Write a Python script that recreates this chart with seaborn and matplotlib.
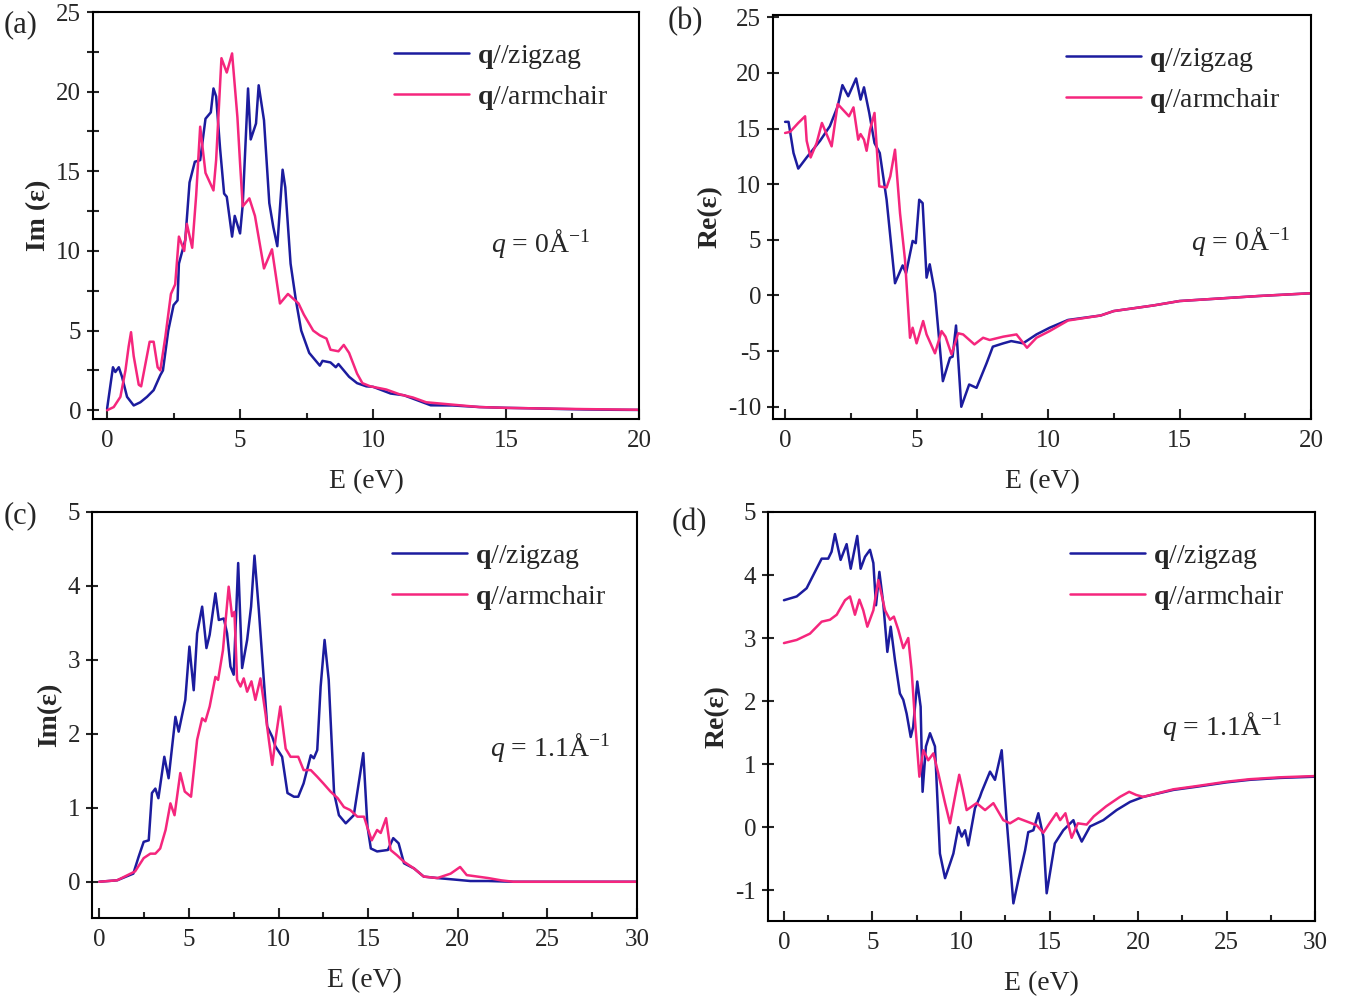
import matplotlib
matplotlib.use("Agg")
import matplotlib.pyplot as plt
import seaborn as sns
from matplotlib.ticker import MultipleLocator

# ---- (a) Im(eps), q = 0 ----
a_zz_E = [0, 0.22, 0.31, 0.44, 0.56, 0.75, 1.0, 1.25, 1.5, 1.75, 2.0, 2.1, 2.3, 2.5, 2.65, 2.7,
          2.94, 3.1, 3.3, 3.5, 3.7, 3.9, 4.0, 4.1, 4.25, 4.4, 4.5, 4.7, 4.8, 5.0, 5.1, 5.3, 5.4,
          5.6, 5.7, 5.9, 6.1, 6.25, 6.4, 6.6, 6.7, 6.9, 7.1, 7.3, 7.6, 8.0, 8.1, 8.4, 8.6, 8.7,
          9.1, 9.4, 9.75, 10.0, 10.66, 11.16, 11.66, 12.17, 13.0, 14.0, 15.0, 16.0, 17.0, 18.0,
          19.0, 20.0]
a_zz_v = [0.1, 2.7, 2.4, 2.7, 2.1, 0.84, 0.3, 0.5, 0.84, 1.26, 2.2, 2.5, 5.0, 6.6, 6.9, 9.2,
          10.7, 14.3, 15.6, 15.7, 18.3, 18.7, 20.2, 19.7, 16.4, 13.6, 13.4, 10.9, 12.2, 11.1, 12.9,
          20.2, 17.0, 18.0, 20.4, 18.2, 13.0, 11.5, 10.3, 15.1, 14.0, 9.2, 6.9, 5.0, 3.6, 2.8, 3.1,
          3.0, 2.7, 2.9, 2.1, 1.7, 1.5, 1.47, 1.05, 0.94, 0.63, 0.31, 0.3, 0.2, 0.15, 0.12, 0.08,
          0.05, 0.03, 0.02]
a_ac_E = [0, 0.25, 0.5, 0.69, 0.81, 0.9, 1.0, 1.19, 1.28, 1.44, 1.6, 1.75, 1.9, 2.0, 2.19, 2.4,
          2.56, 2.7, 2.9, 3.0, 3.2, 3.35, 3.5, 3.7, 4.0, 4.1, 4.3, 4.5, 4.7, 4.9, 5.0, 5.1, 5.35,
          5.56, 5.9, 6.2, 6.5, 6.8, 7.2, 7.4, 7.75, 8.0, 8.25, 8.4, 8.7, 8.9, 9.1, 9.4, 9.6, 9.9,
          10.5, 11.0, 11.5, 12.0, 13.0, 14.0, 15.0, 16.0, 18.0, 20.0]
a_ac_v = [0, 0.2, 0.84, 2.5, 4.0, 4.9, 3.4, 1.6, 1.5, 2.9, 4.3, 4.3, 2.7, 2.5, 4.6, 7.3, 7.9,
          10.9, 10.0, 11.7, 10.2, 13.5, 17.8, 14.9, 13.8, 15.7, 22.1, 21.2, 22.4, 18.4, 15.5, 12.8,
          13.3, 12.2, 8.9, 10.1, 6.7, 7.3, 6.7, 6.0, 5.0, 4.7, 4.5, 3.8, 3.7, 4.1, 3.6, 2.3, 1.7,
          1.5, 1.3, 1.0, 0.8, 0.5, 0.35, 0.2, 0.15, 0.12, 0.07, 0.03]

# ---- (b) Re(eps), q = 0 ----
b_zz_E = [0, 0.13, 0.32, 0.5, 0.82, 1.33, 1.7, 2.0, 2.18, 2.4, 2.7, 2.87, 3.0, 3.2, 3.4, 3.6,
          3.86, 4.18, 4.47, 4.6, 4.85, 4.97, 5.1, 5.23, 5.38, 5.5, 5.7, 6.0, 6.27, 6.37, 6.5, 6.7,
          7.0, 7.28, 7.66, 7.9, 8.3, 8.6, 9.05, 9.56, 10.06, 10.76, 12.0, 12.5, 14.0, 15.0, 16.0,
          18.0, 20.0]
b_zz_v = [15.6, 15.6, 12.8, 11.4, 12.4, 13.9, 15.2, 17.0, 18.9, 17.9, 19.5, 17.6, 18.7, 16.4,
          13.7, 12.8, 8.6, 1.1, 2.7, 2.0, 4.9, 4.7, 8.6, 8.3, 1.6, 2.8, 0.2, -7.7, -5.6, -5.5, -2.7,
          -10.0, -8.0, -8.3, -6.1, -4.6, -4.3, -4.1, -4.3, -3.5, -2.9, -2.2, -1.8, -1.4, -0.9,
          -0.5, -0.35, -0.05, 0.2]
b_ac_E = [0, 0.19, 0.5, 0.63, 0.76, 0.82, 0.97, 1.2, 1.4, 1.77, 2.0, 2.43, 2.6, 2.78, 2.87, 3.0,
          3.1, 3.23, 3.4, 3.58, 3.86, 4.0, 4.18, 4.37, 4.56, 4.75, 4.85, 5.0, 5.25, 5.38, 5.7,
          5.95, 6.1, 6.33, 6.58, 6.77, 7.2, 7.53, 7.78, 8.3, 8.8, 9.2, 9.56, 10.06, 10.76, 12.0,
          12.5, 14.0, 15.0, 16.0, 18.0, 20.0]
b_ac_v = [14.6, 14.7, 15.5, 15.8, 16.1, 13.9, 12.4, 13.7, 15.5, 13.4, 17.2, 16.1, 16.9, 14.0,
          14.5, 14.0, 13.0, 14.9, 16.4, 9.8, 9.7, 10.7, 13.1, 7.4, 3.2, -3.8, -2.9, -4.3, -2.3,
          -3.5, -5.2, -3.2, -3.7, -5.3, -3.4, -3.5, -4.4, -3.8, -4.0, -3.7, -3.5, -4.7, -3.8, -3.2,
          -2.25, -1.8, -1.4, -0.9, -0.5, -0.35, -0.05, 0.2]

# ---- (c) Im(eps), q = 1.1 ----
c_zz_E = [0, 1.0, 1.9, 2.2, 2.48, 2.76, 2.94, 3.13, 3.3, 3.63, 3.87, 4.25, 4.43, 4.8, 5.03, 5.27,
          5.46, 5.74, 5.98, 6.16, 6.48, 6.67, 6.95, 7.13, 7.32, 7.5, 7.75, 7.97, 8.25, 8.47, 8.66,
          8.9, 9.18, 9.37, 9.65, 9.83, 10.2, 10.5, 10.86, 11.1, 11.4, 11.8, 11.97, 12.16, 12.35,
          12.57, 12.8, 13.1, 13.37, 13.75, 14.2, 14.73, 14.96, 15.15, 15.5, 16.1, 16.4, 16.7,
          17.0, 17.56, 18.1, 18.86, 19.8, 20.7, 21.7, 23.1, 25.0, 30.0]
c_zz_v = [0, 0.02, 0.11, 0.34, 0.54, 0.56, 1.2, 1.26, 1.13, 1.69, 1.4, 2.23, 2.03, 2.46, 3.18,
          2.59, 3.36, 3.72, 3.16, 3.34, 3.9, 3.54, 3.56, 3.36, 2.91, 2.8, 4.31, 2.89, 3.27, 3.72,
          4.41, 3.68, 2.73, 2.1, 1.96, 1.83, 1.69, 1.2, 1.15, 1.15, 1.33, 1.71, 1.67, 1.78, 2.64,
          3.27, 2.73, 1.2, 0.9, 0.79, 0.9, 1.74, 0.75, 0.45, 0.41, 0.43, 0.59, 0.52, 0.25, 0.18,
          0.07, 0.05, 0.03, 0.01, 0.01, 0, 0, 0]
c_ac_E = [0, 1.0, 2.0, 2.48, 2.85, 3.13, 3.4, 3.7, 3.97, 4.2, 4.52, 4.77, 5.12, 5.46, 5.74, 5.92,
          6.16, 6.48, 6.63, 6.9, 7.22, 7.41, 7.54, 7.69, 7.88, 8.06, 8.25, 8.49, 8.71, 8.99, 9.27,
          9.46, 9.65, 9.83, 10.1, 10.4, 10.67, 11.1, 11.4, 11.8, 12.16, 12.5, 12.9, 13.3, 13.65,
          14.0, 14.4, 14.77, 14.95, 15.2, 15.5, 15.7, 16.0, 16.25, 16.6, 17.0, 17.56, 18.1,
          18.86, 19.6, 20.13, 20.5, 21.1, 21.7, 22.4, 23.1, 25.0, 30.0]
c_ac_v = [0, 0.02, 0.14, 0.32, 0.38, 0.38, 0.45, 0.7, 1.06, 0.9, 1.47, 1.22, 1.15, 1.92, 2.21,
          2.17, 2.37, 2.77, 2.73, 3.13, 3.99, 3.59, 3.65, 2.73, 2.64, 2.75, 2.57, 2.71, 2.46, 2.75,
          2.28, 1.92, 1.58, 1.92, 2.37, 1.8, 1.69, 1.69, 1.51, 1.51, 1.42, 1.33, 1.22, 1.13, 1.01,
          0.97, 0.88, 0.88, 0.74, 0.56, 0.7, 0.66, 0.86, 0.43, 0.36, 0.27, 0.18, 0.07, 0.05, 0.11,
          0.2, 0.09, 0.07, 0.05, 0.02, 0, 0, 0]

# ---- (d) Re(eps), q = 1.1 ----
d_zz_E = [0, 0.72, 1.28, 1.75, 2.13, 2.5, 2.69, 2.88, 3.2, 3.54, 3.77, 4.14, 4.33, 4.58, 4.86,
          5.05, 5.2, 5.39, 5.61, 5.84, 6.03, 6.27, 6.55, 6.74, 6.93, 7.16, 7.3, 7.53, 7.72, 7.83,
          8.02, 8.25, 8.53, 8.81, 9.1, 9.38, 9.57, 9.85, 10.04, 10.23, 10.41, 10.79, 11.07, 11.17,
          11.64, 11.92, 12.3, 12.58, 12.96, 13.24, 13.62, 13.8, 14.09, 14.37, 14.65, 14.84, 15.3,
          15.78, 16.35, 16.53, 16.82, 17.29, 18.04, 18.79, 19.55, 20.3, 22.0, 23.3, 25.0, 26.3,
          28.0, 30.0]
d_zz_v = [3.6, 3.66, 3.79, 4.05, 4.26, 4.26, 4.37, 4.65, 4.24, 4.49, 4.1, 4.62, 4.1, 4.29, 4.4,
          4.19, 3.52, 4.05, 3.55, 2.78, 3.18, 2.65, 2.12, 2.02, 1.8, 1.43, 1.59, 2.31, 1.91, 0.56,
          1.28, 1.49, 1.28, -0.42, -0.81, -0.58, -0.42, 0.0, -0.15, -0.05, -0.29, 0.3, 0.48, 0.56,
          0.88, 0.75, 1.22, 0.11, -1.21, -0.84, -0.37, -0.08, -0.05, 0.22, -0.15, -1.05, -0.26,
          -0.05, 0.11, -0.05, -0.23, 0.01, 0.11, 0.27, 0.4, 0.48, 0.59, 0.64, 0.71, 0.75, 0.78,
          0.8]
d_ac_E = [0, 0.72, 1.47, 2.13, 2.6, 2.98, 3.45, 3.73, 4.01, 4.26, 4.48, 4.71, 5.05, 5.33, 5.52,
          5.71, 5.99, 6.21, 6.46, 6.74, 7.02, 7.21, 7.4, 7.65, 7.87, 8.15, 8.44, 8.72, 9.1, 9.38,
          9.66, 9.9, 10.09, 10.32, 10.88, 11.36, 11.83, 12.39, 12.77, 13.24, 13.8, 14.27, 14.65,
          15.0, 15.39, 15.6, 15.9, 16.25, 16.6, 17.1, 17.5, 18.2, 18.98, 19.5, 19.9, 20.3, 22.0,
          23.3, 25.0, 26.3, 28.0, 30.0]
d_ac_v = [2.92, 2.97, 3.07, 3.26, 3.29, 3.37, 3.6, 3.66, 3.37, 3.61, 3.44, 3.18, 3.44, 3.92,
          3.68, 3.44, 3.29, 3.34, 3.13, 2.84, 3.0, 2.49, 1.7, 0.8, 1.22, 1.06, 1.17, 0.85, 0.38,
          0.06, 0.48, 0.83, 0.59, 0.27, 0.38, 0.27, 0.38, 0.11, 0.06, 0.14, 0.08, 0.03, -0.09,
          0.06, 0.22, 0.11, 0.22, -0.17, 0.06, 0.04, 0.17, 0.33, 0.48, 0.56, 0.51, 0.48, 0.6,
          0.65, 0.72, 0.76, 0.79, 0.81]

BLUE = "#1c1c9e"
PINK = "#f5267d"

panels = [
    dict(tag="(a)", ylabel="Im (ε)", ann=r"$q$ = 0Å$^{\mathsf{-}1}$",
         zz=(a_zz_E, a_zz_v), ac=(a_ac_E, a_ac_v),
         rect=[0.0691, 0.581, 0.4056, 0.407], xlim=(-0.53, 20), ylim=(-0.55, 25),
         xmaj=5, ymaj=5, ymin=2.5, ann_xy=(0.82, 0.43), tag_xy=(0.003, 0.99)),
    dict(tag="(b)", ylabel="Re(ε)", ann=r"$q$ = 0Å$^{\mathsf{-}1}$",
         zz=(b_zz_E, b_zz_v), ac=(b_ac_E, b_ac_v),
         rect=[0.5743, 0.581, 0.3997, 0.404], xlim=(-0.46, 20), ylim=(-11.1, 25.2),
         xmaj=5, ymaj=5, ymin=None, ann_xy=(0.87, 0.44), tag_xy=(0.496, 0.993)),
    dict(tag="(c)", ylabel="Im(ε)", ann=r"$q$ = 1.1Å$^{\mathsf{-}1}$",
         zz=(c_zz_E, c_zz_v), ac=(c_ac_E, c_ac_v),
         rect=[0.0684, 0.082, 0.4049, 0.406], xlim=(-0.4, 30), ylim=(-0.49, 5),
         xmaj=5, ymaj=1, ymin=None, ann_xy=(0.84, 0.42), tag_xy=(0.003, 0.499)),
    dict(tag="(d)", ylabel="Re(ε)", ann=r"$q$ = 1.1Å$^{\mathsf{-}1}$",
         zz=(d_zz_E, d_zz_v), ac=(d_ac_E, d_ac_v),
         rect=[0.5706, 0.079, 0.4064, 0.409], xlim=(-0.9, 30), ylim=(-1.49, 5),
         xmaj=5, ymaj=1, ymin=None, ann_xy=(0.83, 0.475), tag_xy=(0.499, 0.492)),
]


def main():
    sns.set_style("ticks")
    plt.rcParams["font.family"] = ["Liberation Serif", "DejaVu Serif"]
    plt.rcParams["mathtext.fontset"] = "custom"
    plt.rcParams["mathtext.rm"] = "Liberation Serif"
    plt.rcParams["mathtext.sf"] = "Liberation Serif"
    plt.rcParams["mathtext.it"] = "Liberation Serif:italic"
    plt.rcParams["mathtext.bf"] = "Liberation Serif:bold"
    plt.rcParams["axes.unicode_minus"] = False

    fig = plt.figure(figsize=(13.46, 10), dpi=100)

    for p in panels:
        ax = fig.add_axes(p["rect"])
        sns.lineplot(x=p["zz"][0], y=p["zz"][1], ax=ax, color=BLUE, lw=1.8,
                     estimator=None, sort=False, label=r"$\mathbf{q}$//zigzag")
        sns.lineplot(x=p["ac"][0], y=p["ac"][1], ax=ax, color=PINK, lw=1.8,
                     estimator=None, sort=False, label=r"$\mathbf{q}$//armchair")
        ax.set_xlim(*p["xlim"])
        ax.set_ylim(*p["ylim"])
        ax.xaxis.set_major_locator(MultipleLocator(p["xmaj"]))
        ax.xaxis.set_minor_locator(MultipleLocator(p["xmaj"] / 2))
        ax.yaxis.set_major_locator(MultipleLocator(p["ymaj"]))
        if p["ymin"]:
            ax.yaxis.set_minor_locator(MultipleLocator(p["ymin"]))
            ax.tick_params(axis="y", which="minor", direction="inout", length=9, width=1.5)
        ax.tick_params(axis="x", which="major", direction="in", length=7, width=1.5,
                       labelsize=18, pad=8)
        ax.tick_params(axis="x", which="minor", direction="in", length=4, width=1.5)
        ax.tick_params(axis="y", which="major", direction="inout", length=9, width=1.5,
                       labelsize=18, pad=4)
        for s in ax.spines.values():
            s.set_linewidth(1.5)
            s.set_color("black")
        ax.set_xlabel("E (eV)", fontsize=20, labelpad=12)
        ax.set_ylabel(p["ylabel"], fontsize=20, fontweight="bold", labelpad=4)
        leg = ax.legend(loc="upper right", frameon=False, fontsize=20, handlelength=2.7,
                        handletextpad=0.3, borderaxespad=0.7, labelspacing=0.45)
        for h in leg.get_lines():
            h.set_linewidth(1.8)
        ax.text(p["ann_xy"][0], p["ann_xy"][1], p["ann"], transform=ax.transAxes,
                fontsize=20, ha="center", va="center")
        fig.text(p["tag_xy"][0], p["tag_xy"][1], p["tag"], fontsize=22, ha="left", va="top")

    fig.savefig("out.png", dpi=100)
    plt.close(fig)


if __name__ == "__main__":
    main()
